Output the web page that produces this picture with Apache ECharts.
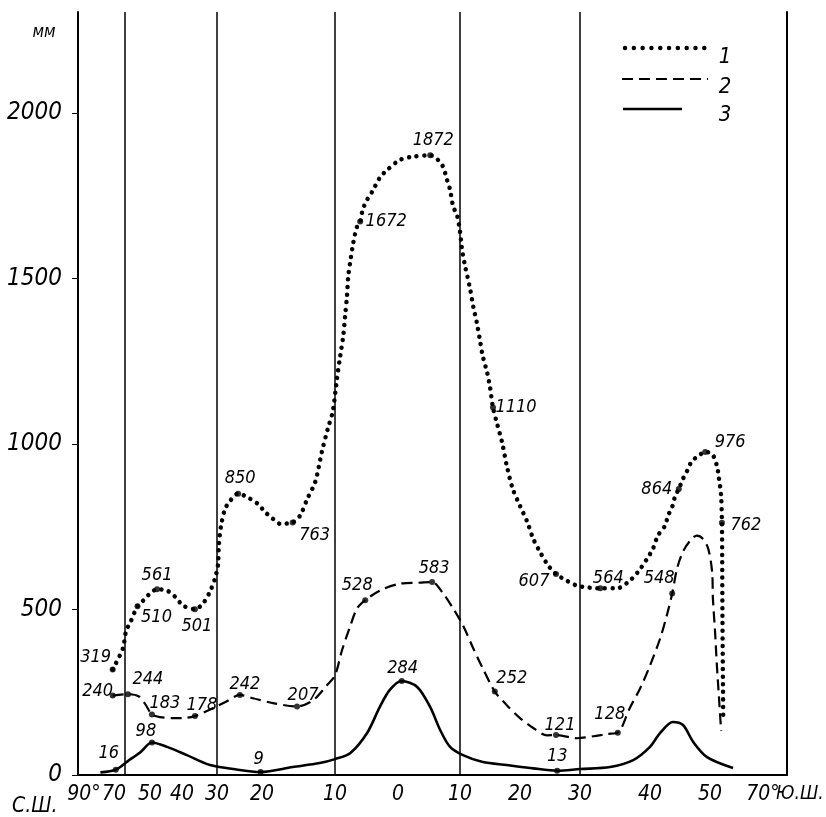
<!DOCTYPE html>
<html><head><meta charset="utf-8">
<script src="https://cdn.jsdelivr.net/npm/echarts@6/dist/echarts.min.js"></script>
<style>html,body{margin:0;padding:0;background:#fff}#c{width:826px;height:817px}</style>
</head><body><div id="c"></div>
<script>
// ---- x axis (latitude: + north, - south) ----
const X_TICK_LATS = [90, 70, 50, 40, 30, 20, 10, 0, -10, -20, -30, -40, -50, -70];
const X_TICK_LABELS = ['90°', '70', '50', '40', '30', '20', '10', '0', '10', '20', '30', '40', '50', '70°'];
// the original latitude scale is non-uniform: axis units at each tick latitude
const X_TICK_UNITS = [6, 47, 72, 104, 139, 184, 257, 320, 382, 442, 502, 572, 632, 685];
const X_UNITS_MAX = 709;
const GRID_LATS = [70, 30, 10, -10, -30];
// ---- y axis ----
const Y_TICKS = [0, 500, 1000, 1500, 2000];
const Y_MAX = 2305;

// ---- curve 1 (dotted) ----
const S1_LAT = [76, 71, 69.2, 65.4, 60, 55.4, 50, 47.8, 44.7, 42.2,
  39.7, 36.3, 34, 32, 30.6, 29.8, 29.6, 29.1, 28.2, 27.1,
  25.3, 23.8, 20.9, 19.6, 18.5, 17.5, 15.8, 14.8, 13.8, 12.7,
  11.8, 11, 10.3, 9.7, 9.2, 8.7, 8.4, 8.1, 7.9, 7.6,
  7.1, 6.5, 6.0, 5.6, 4.9, 4.1, 2.9, 1.7, -0.3, -2.4,
  -5.2, -7.1, -7.9, -8.4, -8.9, -9.5, -10, -10.3, -10.8, -11.7,
  -12.2, -12.8, -13.3, -13.8, -14.5, -15, -15.5, -16.2, -17, -17.8,
  -18.8, -20, -21.2, -22.2, -23.3, -24.7, -26, -27.8, -29.5, -31.4,
  -32.9, -35.3, -37.1, -38.3, -39.6, -40.5, -41.3, -42.5, -43, -43.7,
  -44.2, -44.8, -45.5, -46.2, -47, -47.8, -49.2, -50.8, -52.6, -53.4,
  -54.2, -54.5, -54.6, -54.7, -54.9, -55.0];
const S1_VAL = [319, 383, 434, 464, 510, 527, 548, 561, 557, 539,
  512, 501, 518, 554, 593, 633, 693, 753, 804, 828,
  850, 843, 819, 795, 774, 759, 763, 783, 834, 886,
  976, 1045, 1099, 1196, 1262, 1325, 1386, 1446, 1506, 1548,
  1608, 1657, 1672, 1708, 1738, 1762, 1804, 1828, 1858, 1868,
  1872, 1843, 1798, 1768, 1717, 1693, 1642, 1593, 1542, 1467,
  1416, 1367, 1316, 1265, 1217, 1172, 1110, 1060, 1006, 934,
  864, 813, 765, 714, 675, 633, 607, 587, 572, 566,
  564, 564, 587, 614, 654, 684, 723, 753, 783, 810,
  843, 864, 895, 919, 949, 960, 976, 970, 934, 895,
  843, 762, 654, 473, 262, 163];
const P1_LAT = [76, 60, 47.8, 36.3, 25.3, 15.8, 6.0, -5.2, -15.5, -26, -32.9, -44.8, -49.2, -54.5];
const P1_VAL = [319, 510, 561, 501, 850, 763, 1672, 1872, 1110, 607, 564, 864, 976, 762];

// ---- curve 2 (dashed) ----
const S2_LAT = [76, 67.7, 59.2, 53.8, 49.4, 46.9, 42.8, 39.7, 36.3, 32.9,
  30, 27.8, 24.9, 22, 18.5, 15.2, 13, 11.1, 10, 8.9,
  7.6, 6.5, 5.2, 2.9, -0.3, -3.5, -5.5, -7.3, -8.9, -10.5,
  -12.2, -13.8, -15.8, -17.8, -20, -22.2, -24.5, -26, -29.5, -31.9,
  -33.9, -35.4, -37.1, -38.6, -40, -41.7, -42.8, -43.7, -44.5, -45.5,
  -46.7, -47.8, -48.8, -49.7, -50.8, -51.1, -51.9, -52.6, -53.4, -54.2];
const S2_VAL = [240, 244, 238, 214, 183, 175, 172, 172, 178, 193,
  208, 223, 242, 232, 217, 207, 226, 271, 301, 376,
  449, 503, 528, 557, 578, 581, 583, 548, 503, 452,
  383, 322, 252, 211, 172, 142, 120, 121, 111, 117,
  124, 128, 202, 262, 331, 413, 482, 548, 623, 675,
  708, 723, 714, 684, 614, 533, 434, 331, 232, 133];
const P2_LAT = [76, 67.7, 49.4, 36.3, 24.9, 15.2, 5.2, -5.5, -15.8, -26, -35.4, -43.7];
const P2_VAL = [240, 244, 183, 178, 242, 207, 528, 583, 252, 121, 128, 548];

// ---- curve 3 (solid) ----
const S3_LAT = [82, 74.5, 67.7, 57.7, 49.4, 44.7, 38.6, 32, 26.4, 20.3,
  15.8, 12.1, 10, 7.6, 4.9, 2.9, 1.3, -0.6, -3.1, -5.2,
  -6.8, -8.4, -10.5, -13.8, -17.8, -22.2, -26.2, -30, -34.3, -37.6,
  -40, -41.7, -43.8, -45.5, -47.2, -49.5, -58.7];
const S3_VAL = [8, 16, 42, 69, 98, 85, 60, 30, 18, 9,
  24, 36, 48, 66, 127, 205, 257, 284, 266, 205,
  136, 85, 60, 39, 30, 20, 13, 18, 24, 45,
  85, 127, 160, 151, 100, 54, 21];
const P3_LAT = [74.5, 49.4, 20.3, -0.6, -26.2];
const P3_VAL = [16, 98, 9, 284, 13];

const LEGEND_NAMES = ['1', '2', '3'];

// ---- styling (label offsets relative to their points) ----
const OFF1 = [[-17,-12],[19,11],[0,-14],[2,17],[2,-15],[22,13],[26,0],[3,-15],[23,0],[-22,7],[8,-10],[-22,0],[25,-10],[24,3]];
const OFF2 = [[-15,-4],[20,-15],[13,-11],[7,-11],[5,-11],[6,-11],[-8,-15],[2,-14],[17,-13],[4,-10],[-8,-18],[-13,-15]];
const OFF3 = [[-7,-16],[-6,-11],[-2,-13],[1,-13],[0,-14]];

const FONT = "'DejaVu Sans Condensed','DejaVu Sans',sans-serif";

function warp(lat) {
  const L = X_TICK_LATS, U = X_TICK_UNITS;
  let i = 0;
  if (lat >= L[0]) i = 0;
  else if (lat <= L[L.length - 1]) i = L.length - 2;
  else { while (!(lat <= L[i] && lat >= L[i + 1])) i++; }
  const t = (lat - L[i]) / (L[i + 1] - L[i]);
  return U[i] + t * (U[i + 1] - U[i]);
}
function pairs(lats, vals) { return lats.map((l, i) => [warp(l), vals[i]]); }
function pointSeries(lats, vals, offs) {
  return {
    type: 'scatter', symbol: 'circle', symbolSize: 6, z: 5,
    itemStyle: { color: '#000' },
    emphasis: { disabled: true },
    data: pairs(lats, vals),
    label: {
      show: true, position: 'inside', align: 'center', verticalAlign: 'middle',
      color: '#000', opacity: 1, fontStyle: 'italic', fontSize: 18, fontFamily: FONT,
      textBorderWidth: 0, textBorderColor: 'transparent',
      formatter: p => String(p.value[1])
    },
    labelLayout: p => ({ dx: offs[p.dataIndex][0], dy: offs[p.dataIndex][1], hideOverlap: false, moveOverlap: null })
  };
}
const tickUnits = X_TICK_UNITS.slice();
function xLabel(v) {
  let best = 0;
  tickUnits.forEach((u, i) => { if (Math.abs(u - v) < Math.abs(tickUnits[best] - v)) best = i; });
  const t = X_TICK_LABELS[best];
  return best === 1 ? '{s|' + t + '}' : t;
}

const chart = echarts.init(document.getElementById('c'), null, { renderer: 'canvas' });
chart.setOption({
  animation: false,
  backgroundColor: '#fff',
  grid: { left: 78, right: 39, top: 12, bottom: 42, containLabel: false, outerBoundsMode: 'none' },
  xAxis: {
    type: 'value', min: 0, max: X_UNITS_MAX,
    axisLine: { show: true, onZero: false, lineStyle: { color: '#000', width: 2 } },
    axisTick: { show: false },
    splitLine: { show: false },
    axisLabel: {
      customValues: tickUnits, formatter: xLabel, margin: 9, interval: 0,
      color: '#000', fontStyle: 'italic', fontSize: 21, fontFamily: FONT,
      showMinLabel: true, showMaxLabel: true, hideOverlap: false,
      rich: { s: { padding: [0, 22, 0, 0], fontStyle: 'italic', fontSize: 21, fontFamily: FONT, color: '#000' } }
    }
  },
  yAxis: [{
    type: 'value', min: 0, max: Y_MAX,
    axisLine: { show: true, lineStyle: { color: '#000', width: 2 } },
    axisTick: { show: true, customValues: Y_TICKS, length: 6, lineStyle: { color: '#000', width: 1 } },
    splitLine: { show: false },
    axisLabel: {
      customValues: Y_TICKS, margin: 16, formatter: v => String(v),
      color: '#000', fontStyle: 'italic', fontSize: 24, fontFamily: FONT
    }
  }, {
    type: 'value', min: 0, max: Y_MAX, position: 'right',
    axisLine: { show: true, lineStyle: { color: '#000', width: 2 } },
    axisTick: { show: false }, axisLabel: { show: false }, splitLine: { show: false }
  }],
  series: [
    {
      name: LEGEND_NAMES[0], type: 'line', smooth: 0.3, showSymbol: false, z: 3,
      data: pairs(S1_LAT, S1_VAL),
      lineStyle: { color: '#000', width: 4.5, type: [0.01, 7.6], cap: 'round' }
    },
    {
      name: LEGEND_NAMES[1], type: 'line', smooth: 0.3, showSymbol: false, z: 3,
      data: pairs(S2_LAT, S2_VAL),
      lineStyle: { color: '#000', width: 2.2, type: [11, 6] }
    },
    {
      name: LEGEND_NAMES[2], type: 'line', smooth: 0.3, showSymbol: false, z: 3,
      data: pairs(S3_LAT, S3_VAL),
      lineStyle: { color: '#000', width: 2.6 },
      markLine: {
        silent: true, symbol: 'none', label: { show: false },
        lineStyle: { color: '#000', width: 1.5, type: 'solid' },
        data: GRID_LATS.map(l => ({ xAxis: warp(l) }))
      }
    },
    pointSeries(P1_LAT, P1_VAL, OFF1),
    pointSeries(P2_LAT, P2_VAL, OFF2),
    pointSeries(P3_LAT, P3_VAL, OFF3)
  ],
  graphic: [
    { type: 'line', shape: { x1: 625, y1: 48, x2: 707, y2: 48 }, style: { stroke: '#000', lineWidth: 4.5, lineDash: [0.01, 8.8], lineCap: 'round' } },
    { type: 'line', shape: { x1: 622, y1: 79, x2: 708, y2: 79 }, style: { stroke: '#000', lineWidth: 2.2, lineDash: [11, 6] } },
    { type: 'line', shape: { x1: 623, y1: 109, x2: 682, y2: 109 }, style: { stroke: '#000', lineWidth: 2.6 } },
    { type: 'text', x: 725, y: 57, style: { text: LEGEND_NAMES[0], fill: '#000', font: 'italic 22px ' + FONT, textAlign: 'center', textVerticalAlign: 'middle' } },
    { type: 'text', x: 725, y: 87, style: { text: LEGEND_NAMES[1], fill: '#000', font: 'italic 22px ' + FONT, textAlign: 'center', textVerticalAlign: 'middle' } },
    { type: 'text', x: 725, y: 115, style: { text: LEGEND_NAMES[2], fill: '#000', font: 'italic 22px ' + FONT, textAlign: 'center', textVerticalAlign: 'middle' } },
    { type: 'text', x: 44, y: 33, style: { text: 'мм', fill: '#000', font: 'italic 17px ' + FONT, textAlign: 'center', textVerticalAlign: 'middle' } },
    { type: 'text', x: 12, y: 807, style: { text: 'С.Ш.', fill: '#000', font: 'italic 21px ' + FONT, textAlign: 'left', textVerticalAlign: 'middle' } },
    { type: 'text', x: 776, y: 794, style: { text: 'Ю.Ш.', fill: '#000', font: 'italic 19px ' + FONT, textAlign: 'left', textVerticalAlign: 'middle' } }
  ]
});
</script>
</body></html>
